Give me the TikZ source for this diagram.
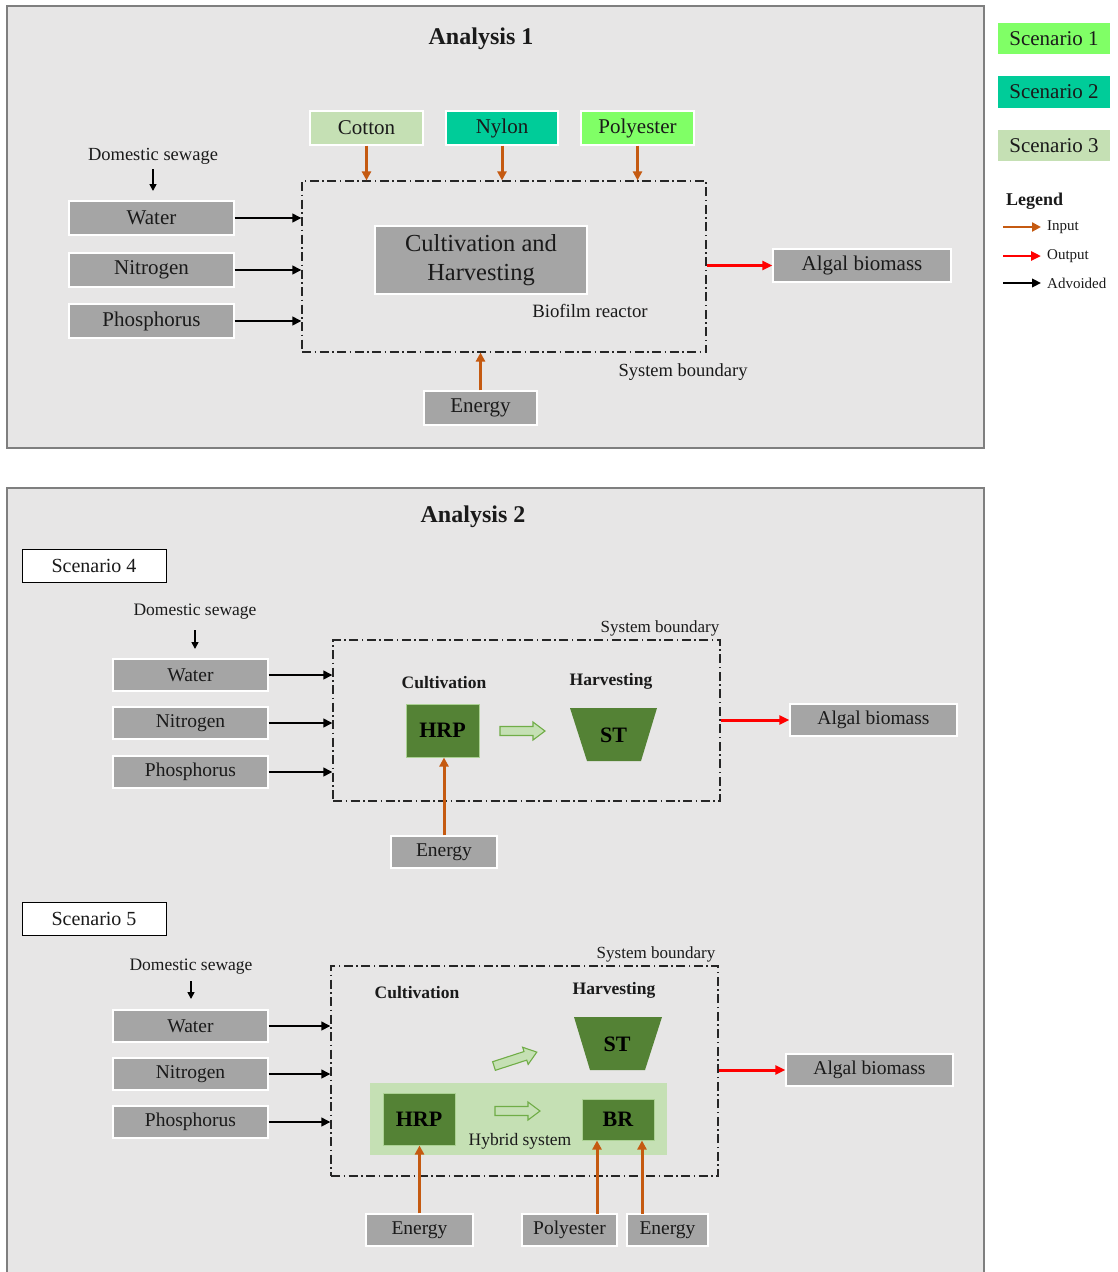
\documentclass[tikz,border=0pt]{standalone}
\usepackage{fontspec}
\setmainfont{Liberation Serif}
\usetikzlibrary{arrows.meta,calc}
\definecolor{panelbg}{HTML}{E7E6E6}
\definecolor{panelbd}{HTML}{7F7F7F}
\definecolor{boxgray}{HTML}{A5A5A5}
\definecolor{ltgreen}{HTML}{C5E0B4}
\definecolor{nyloncol}{HTML}{00CC99}
\definecolor{polycol}{HTML}{80FF66}
\definecolor{dkgreen}{HTML}{548235}
\definecolor{midgreen}{HTML}{70AD47}
\definecolor{inorange}{HTML}{C55A11}
\definecolor{txt}{HTML}{1A1A1A}
\newcommand{\fs}[1]{\fontsize{#1}{#1}\selectfont}
\newcommand{\blockarrow}{(0,-4.5) -- (33,-4.5) -- (33,-9) -- (45,0) -- (33,9) -- (33,4.5) -- (0,4.5) -- cycle}
\tikzset{
  panel/.style={fill=panelbg, draw=panelbd, line width=1.3pt},
  gbox/.style={fill=boxgray, draw=white, line width=1.3pt, inner sep=0pt, text=txt, font=\fs{21}},
  gboxs/.style={gbox, font=\fs{19.5}},
  cbox/.style={draw=white, line width=1.3pt, inner sep=0pt, text=txt, font=\fs{21}},
  scbox/.style={fill=white, draw=black, line width=1pt, inner sep=0pt, text=txt, font=\fs{20}},
  hbox/.style={fill=dkgreen, draw=ltgreen!70!midgreen, line width=1pt, inner sep=0pt, text=black, font=\bfseries\fs{22}},
  bnd/.style={draw=black!85, line width=1.1pt, dash pattern=on 9pt off 3.5pt on 1.5pt off 3.5pt},
  lbl/.style={text=txt, inner sep=0pt},
  inarr/.style={draw=inorange, line width=3pt, -{Triangle[length=9pt,width=9pt]}},
  outarr/.style={draw=red, line width=3pt, -{Triangle[length=10pt,width=9pt]}},
  avarr/.style={draw=black, line width=2.6pt, -{Triangle[length=9pt,width=8.5pt]}},
  dsarr/.style={draw=black, line width=1.6pt, -{Triangle[length=7pt,width=7pt]}},
  blockarr/.style={fill=ltgreen, draw=midgreen, line width=1.1pt, line join=miter}
}
\begin{document}
\begin{tikzpicture}[x=1pt,y=-1pt]
\useasboundingbox (0,0) rectangle (1117,1272);
% ---------------- Panel 1 ----------------
\draw[panel] (7,6) rectangle (984,448);
\node[lbl, font=\bfseries\fs{24}] (t1) at (481,39) {Analysis 1};

\node[bnd, minimum width=404pt, minimum height=171pt, inner sep=0pt] (b1) at (504,266.5) {};

\node[cbox, fill=ltgreen, minimum width=113pt, minimum height=34pt] (cot) at (366.5,128) {Cotton};
\node[cbox, fill=nyloncol, minimum width=112pt, minimum height=34pt] (nyl) at (502,128) {Nylon};
\node[cbox, fill=polycol, minimum width=113pt, minimum height=34pt] (pol) at (637.5,128) {Polyester};
\draw[inarr] (cot.south) -- (cot.south |- b1.north);
\draw[inarr] (nyl.south) -- (nyl.south |- b1.north);
\draw[inarr] (pol.south) -- (pol.south |- b1.north);

\node[lbl, font=\fs{18.5}] (ds1) at (153,156) {Domestic sewage};
\coordinate (ds1a) at (153,169);
\coordinate (ds1b) at (153,191);
\draw[dsarr] (ds1a) -- (ds1b);

\node[gbox, minimum width=165pt, minimum height=34pt] (w1) at (151.5,218) {Water};
\node[gbox, minimum width=165pt, minimum height=34pt] (n1) at (151.5,270) {Nitrogen};
\node[gbox, minimum width=165pt, minimum height=34pt] (p1) at (151.5,321) {Phosphorus};
\draw[avarr] (w1.east) -- (w1.east -| b1.west);
\draw[avarr] (n1.east) -- (n1.east -| b1.west);
\draw[avarr] (p1.east) -- (p1.east -| b1.west);

\node[gbox, font=\fs{24.5}, align=center, minimum width=212pt, minimum height=68pt] (ch) at (481,260) {Cultivation and\\[5pt]Harvesting};
\node[lbl, font=\fs{18.8}] (bio) at (590,311) {Biofilm reactor};
\node[lbl, font=\fs{18.5}] (sb1) at (683,372) {System boundary};

\node[gbox, minimum width=113pt, minimum height=34pt] (e1) at (480.5,408) {Energy};
\draw[inarr] (e1.north) -- (e1.north |- b1.south);

\node[gbox, minimum width=178pt, minimum height=33pt] (ab1) at (862,265.5) {Algal biomass};
\draw[outarr] (b1.east |- ab1.west) -- (ab1.west);

% ---------------- Scenarios & legend ----------------
\node[cbox, fill=polycol, minimum width=114pt, minimum height=33pt] (sc1) at (1054,38.5) {Scenario~1};
\node[cbox, fill=nyloncol, minimum width=114pt, minimum height=33pt] (sc2) at (1054,92) {Scenario~2};
\node[cbox, fill=ltgreen, minimum width=114pt, minimum height=33pt] (sc3) at (1054,145.5) {Scenario~3};

\node[lbl, font=\bfseries\fs{18}, anchor=west] (leg) at (1006,201) {Legend};
\node[lbl, font=\fs{15}, anchor=west] (lin) at (1047,227) {Input};
\node[lbl, font=\fs{15}, anchor=west] (lout) at (1047,256) {Output};
\node[lbl, font=\fs{15}, anchor=west] (ladv) at (1047,283) {Advoided};
\coordinate (li1) at (1003,227); \coordinate (li2) at (1041,227);
\coordinate (lo1) at (1003,256); \coordinate (lo2) at (1041,256);
\coordinate (la1) at (1003,283); \coordinate (la2) at (1041,283);
\draw[inarr, line width=2.6pt] (li1) -- (li2);
\draw[outarr, line width=2.6pt] (lo1) -- (lo2);
\draw[avarr] (la1) -- (la2);

% ---------------- Panel 2 ----------------
\fill[panelbg] (7,488) rectangle (984,1273);
\draw[panelbd, line width=1.3pt] (7,1273) -- (7,488) -- (984,488) -- (984,1273);
\node[lbl, font=\bfseries\fs{24}] (t2) at (473,517) {Analysis 2};

% Scenario 4
\node[scbox, minimum width=144pt, minimum height=33pt] (sc4) at (94,565.5) {Scenario~4};
\node[lbl, font=\fs{17.5}] (ds4) at (195,612) {Domestic sewage};
\coordinate (ds4a) at (195,630); \coordinate (ds4b) at (195,649);
\draw[dsarr] (ds4a) -- (ds4b);

\node[bnd, minimum width=387pt, minimum height=161pt, inner sep=0pt] (b4) at (526.5,720.5) {};
\node[lbl, font=\fs{17}] (sb4) at (660,628) {System boundary};

\node[gboxs, minimum width=155pt, minimum height=32pt] (w4) at (190.5,675) {Water};
\node[gboxs, minimum width=155pt, minimum height=32pt] (n4) at (190.5,723) {Nitrogen};
\node[gboxs, minimum width=155pt, minimum height=32pt] (p4) at (190.5,772) {Phosphorus};
\draw[avarr] (w4.east) -- (w4.east -| b4.west);
\draw[avarr] (n4.east) -- (n4.east -| b4.west);
\draw[avarr] (p4.east) -- (p4.east -| b4.west);

\node[lbl, font=\bfseries\fs{17.5}] (cu4) at (444,683) {Cultivation};
\node[lbl, font=\bfseries\fs{17.5}] (ha4) at (611,681) {Harvesting};
\node[hbox, minimum width=73pt, minimum height=53pt] (hrp4) at (442.5,730.5) {HRP};
\draw[blockarr, shift={(500,731)}] \blockarrow;
\fill[dkgreen] (570,708) -- (657,708) -- (641,761) -- (587,761) -- cycle;
\node[lbl, font=\bfseries\fs{22}, text=black] (st4) at (613.5,735) {ST};

\node[gboxs, minimum width=106pt, minimum height=32pt] (e4) at (444,852) {Energy};
\draw[inarr] (e4.north) -- (e4.north |- hrp4.south);

\node[gboxs, minimum width=167pt, minimum height=32pt] (ab4) at (873.5,720) {Algal biomass};
\draw[outarr] (b4.east |- ab4.west) -- (ab4.west);

% Scenario 5
\node[scbox, minimum width=144pt, minimum height=33pt] (sc5) at (94,918.5) {Scenario~5};
\node[lbl, font=\fs{17.5}] (ds5) at (191,967) {Domestic sewage};
\coordinate (ds5a) at (191,981); \coordinate (ds5b) at (191,999);
\draw[dsarr] (ds5a) -- (ds5b);

\node[bnd, minimum width=387pt, minimum height=210pt, inner sep=0pt] (b5) at (524.5,1071) {};
\node[lbl, font=\fs{17}] (sb5) at (656,954) {System boundary};

\node[gboxs, minimum width=155pt, minimum height=32pt] (w5) at (190.5,1026) {Water};
\node[gboxs, minimum width=155pt, minimum height=32pt] (n5) at (190.5,1074) {Nitrogen};
\node[gboxs, minimum width=155pt, minimum height=32pt] (p5) at (190.5,1122) {Phosphorus};
\draw[avarr] (w5.east) -- (w5.east -| b5.west);
\draw[avarr] (n5.east) -- (n5.east -| b5.west);
\draw[avarr] (p5.east) -- (p5.east -| b5.west);

\node[lbl, font=\bfseries\fs{17.5}] (cu5) at (417,993) {Cultivation};
\node[lbl, font=\bfseries\fs{17.5}] (ha5) at (614,990) {Harvesting};
\fill[dkgreen] (574,1017) -- (662,1017) -- (645,1070) -- (590,1070) -- cycle;
\node[lbl, font=\bfseries\fs{22}, text=black] (st5) at (617,1044) {ST};
\begin{scope}[shift={(494,1066)}, rotate=18]
\draw[blockarr] \blockarrow;
\end{scope}

\node[fill=ltgreen, minimum width=297pt, minimum height=72pt, inner sep=0pt] (hyb) at (518.5,1119) {};
\node[hbox, minimum width=72pt, minimum height=52pt] (hrp5) at (419,1119) {HRP};
\node[hbox, minimum width=72pt, minimum height=41pt] (br5) at (618,1119.5) {BR};
\draw[blockarr, shift={(495,1111)}] \blockarrow;
\node[lbl, font=\fs{17.5}] (hs5) at (520,1141) {Hybrid system};

\node[gboxs, minimum width=107pt, minimum height=32pt] (e5a) at (419.5,1230) {Energy};
\node[gboxs, minimum width=95pt, minimum height=32pt] (po5) at (569.5,1230) {Polyester};
\node[gboxs, minimum width=81pt, minimum height=32pt] (e5b) at (667.5,1230) {Energy};
\draw[inarr] (e5a.north) -- (e5a.north |- hrp5.south);
\coordinate (po5t) at (597,1214);
\coordinate (e5bt) at (642,1214);
\draw[inarr] (po5t) -- (po5t |- br5.south);
\draw[inarr] (e5bt) -- (e5bt |- br5.south);

\node[gboxs, minimum width=167pt, minimum height=32pt] (ab5) at (869.5,1070) {Algal biomass};
\draw[outarr] (b5.east |- ab5.west) -- (ab5.west);
\end{tikzpicture}
\end{document}
